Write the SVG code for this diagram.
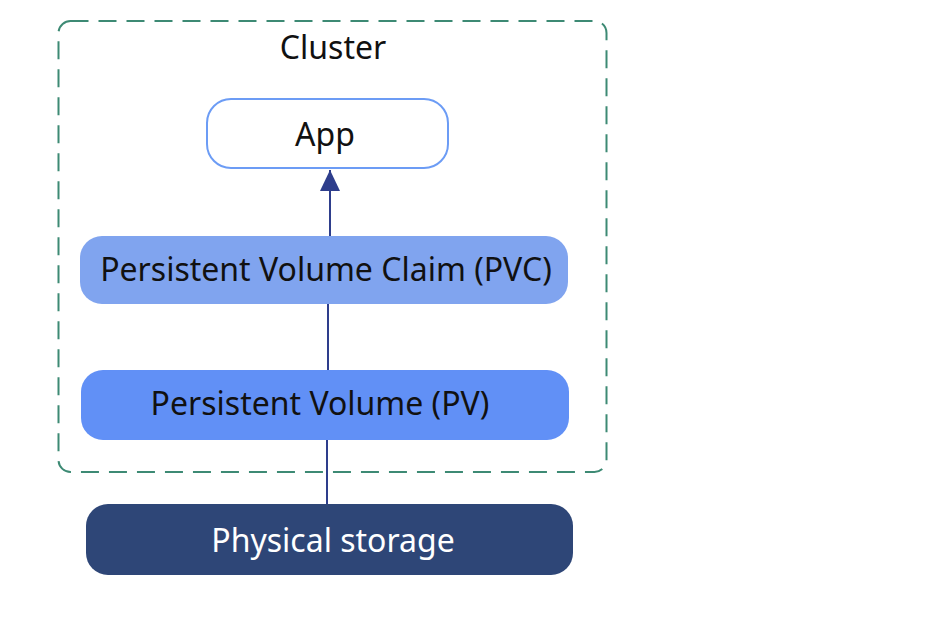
<svg xmlns="http://www.w3.org/2000/svg" width="936" height="624" viewBox="0 0 936 624">
<style>
text{font-family:"Noto Sans","Open Sans",sans-serif;font-size:32px;text-anchor:middle;fill:#111}
.conn{stroke:#2e3e8c;stroke-width:2;fill:none}
</style>
<defs>
<marker id="arr" markerWidth="22" markerHeight="20" refX="21" refY="10" orient="auto" markerUnits="userSpaceOnUse">
<path d="M0,0 L21,10 L0,20 Z" fill="#2e3e8c"/>
</marker>
</defs>
<rect width="936" height="624" fill="#fff"/>
<g id="cluster">
<rect x="58.5" y="21" width="548" height="451" rx="12" fill="none" stroke="#3d8a74" stroke-width="2" stroke-dasharray="18,10"/>
<text x="333" y="59">Cluster</text>
</g>
<g id="connectors">
<line class="conn" x1="327" y1="504" x2="327" y2="440"/>
<line class="conn" x1="328" y1="370" x2="328" y2="304"/>
<line class="conn" x1="330" y1="236" x2="330" y2="170" marker-end="url(#arr)"/>
</g>
<g id="app">
<rect x="207" y="99" width="241" height="69" rx="24" fill="#fff" stroke="#6c9cf5" stroke-width="2"/>
<text x="325" y="146">App</text>
</g>
<g id="pvc">
<rect x="80" y="236" width="488" height="68" rx="22" fill="#80a4ef"/>
<text x="326" y="281">Persistent Volume Claim (PVC)</text>
</g>
<g id="pv">
<rect x="81" y="370" width="488" height="70" rx="22" fill="#6190f6"/>
<text x="320" y="415">Persistent Volume (PV)</text>
</g>
<g id="storage">
<rect x="86" y="504" width="487" height="71" rx="22" fill="#2e4677"/>
<text x="333" y="552" style="fill:#fff">Physical storage</text>
</g>
</svg>
